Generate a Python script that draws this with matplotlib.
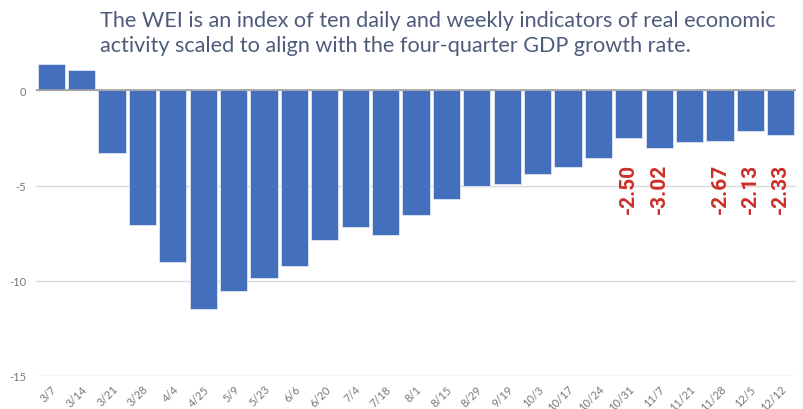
import matplotlib
matplotlib.use("Agg")
import matplotlib.pyplot as plt

## Donnees
weeks = ["3/7", "3/14", "3/21", "3/28", "4/4", "4/25", "5/9", "5/23", "6/6", "6/20",
         "7/4", "7/18", "8/1", "8/15", "8/29", "9/19", "10/3", "10/17", "10/24",
         "10/31", "11/7", "11/21", "11/28", "12/5", "12/12"]
wei = [1.39, 1.05, -3.30, -7.05, -9.01, -11.46, -10.54, -9.84, -9.21, -7.85,
       -7.20, -7.61, -6.52, -5.73, -5.02, -4.92, -4.41, -4.04, -3.53,
       -2.50, -3.02, -2.72, -2.67, -2.13, -2.33]
labelled = ["10/31", "11/7", "11/28", "12/5", "12/12"]

title = ("The WEI is an index of ten daily and weekly indicators of real economic\n"
         "activity scaled to align with the four-quarter GDP growth rate.")

## Figure
fig = plt.figure(figsize=(8.04, 4.10), dpi=100)
ax = fig.add_axes([36/804, 33/410, 760/804, 377/410])

x = range(len(weeks))
ax.bar(x, wei, width=0.89, color="#436fbd", edgecolor="#dfe6f3", linewidth=0.6, zorder=3)

# labels rouges
for i, w in enumerate(weeks):
    if w in labelled:
        ax.text(i, -3.8, f"{wei[i]:.2f}", rotation=90, ha="center", va="top",
                color="#cc2f2a", fontsize=15, fontfamily="Roboto", fontweight="bold", zorder=4)

ax.set_xlim(-0.5, len(weeks) - 0.5)
ax.set_ylim(-15, 4.8)
ax.set_yticks([0, -5, -10, -15])
ax.set_yticklabels(["0", "-5", "-10", "-15"])
ax.set_xticks(list(x))
ax.set_xticklabels(weeks, rotation=45, ha="right", va="top", rotation_mode="anchor")

for lab in ax.get_xticklabels() + ax.get_yticklabels():
    lab.set_fontfamily("Lato")
    lab.set_fontsize(8)
    lab.set_color("#777777")
ax.tick_params(axis="both", length=0)
ax.tick_params(axis="x", pad=5)
ax.tick_params(axis="y", pad=7)

# grille
ax.yaxis.grid(True, color="#d9d9d9", linewidth=1, zorder=0)
ax.axhline(0, color="#9e9e9e", linewidth=1.2, zorder=4)
for s in ax.spines.values():
    s.set_visible(False)

fig.text(100/804, 1 - 11/410, title, ha="left", va="top", fontsize=15.6,
         fontfamily="Lato", color="#4e5b7c", linespacing=1.3)

plt.savefig("out.png", dpi=100)
